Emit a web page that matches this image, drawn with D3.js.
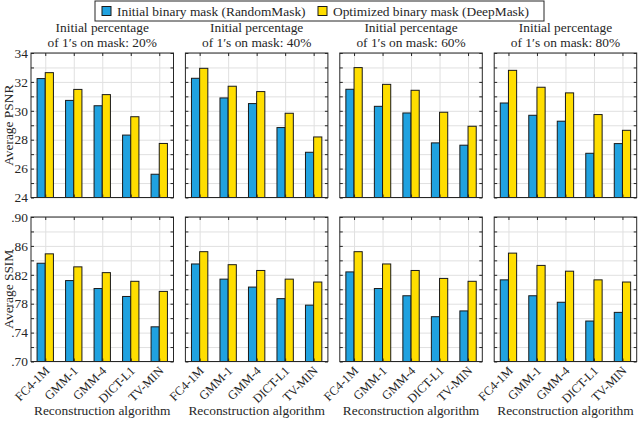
<!DOCTYPE html>
<html>
<head>
<meta charset="utf-8">
<script src="https://cdn.jsdelivr.net/npm/d3@7"></script>
<style>
  body { margin: 0; background: #fff; }
  svg, svg text { font-family: "Liberation Serif", "DejaVu Serif", serif !important; fill: #262626; }
</style>
</head>
<body>
<div id="viz"></div>
<script>
// The chart data: one row per initial percentage, one value per algorithm.
var algorithms = ["FC4-1M", "GMM-1", "GMM-4", "DICT-L1", "TV-MIN"];
var percentages = ["20%", "40%", "60%", "80%"];

var psnrRandom = [
  [32.23, 30.72, 30.35, 28.32, 25.61],
  [32.25, 30.89, 30.50, 28.84, 27.13],
  [31.49, 30.31, 29.85, 27.78, 27.62],
  [30.54, 29.69, 29.28, 27.06, 27.73]
];
var psnrDeep = [
  [32.64, 31.48, 31.12, 29.59, 27.74],
  [32.94, 31.70, 31.33, 29.83, 28.19],
  [32.99, 31.83, 31.42, 29.90, 28.93],
  [32.80, 31.63, 31.24, 29.74, 28.65]
];
var ssimRandom = [
  [0.836, 0.812, 0.801, 0.790, 0.748],
  [0.835, 0.814, 0.803, 0.787, 0.778],
  [0.824, 0.801, 0.791, 0.762, 0.770],
  [0.813, 0.791, 0.782, 0.756, 0.768]
];
var ssimDeep = [
  [0.849, 0.831, 0.823, 0.811, 0.797],
  [0.852, 0.834, 0.826, 0.814, 0.810],
  [0.852, 0.835, 0.826, 0.815, 0.811],
  [0.850, 0.833, 0.825, 0.813, 0.810]
];

var psnrTicks = [24, 26, 28, 30, 32, 34];
var ssimTicks = [0.70, 0.74, 0.78, 0.82, 0.86, 0.90];
var legendLabels = ["Initial binary mask (RandomMask)", "Optimized binary mask (DeepMask)"];

// colours and layout
var blue = "#20a2e0", yellow = "#ffde00";
var axisColor = "#262626", gridColor = "#e0e0e0";
var serif = "Liberation Serif";
var left = 31, step = 154.4, pw = 142.5;
var rowTop = [53, 217], ph = 144.5;
var bw = 0.287; // bar width in category units

var svg = d3.select("#viz").append("svg")
  .attr("width", 640).attr("height", 421)
  .attr("font-family", serif);

// one entry per row of panels
var rows = [
  { domain: [24, 34], ticks: psnrTicks, grid: d3.range(24, 34.001, 1), a: psnrRandom, b: psnrDeep, label: "Average PSNR",
    fmt: function (d) { return d; } },
  { domain: [0.70, 0.90], ticks: ssimTicks, grid: d3.range(0, 11).map(function (i) { return 0.70 + i * 0.02; }), a: ssimRandom, b: ssimDeep, label: "Average SSIM",
    fmt: function (d) { return d3.format(".2f")(d).replace(/^0/, ""); } }
];

var x = d3.scaleLinear().domain([0.5, 5.5]).range([0, pw]);

function label(g) {
  return g.append("text").attr("font-family", serif).style("font-size", "13.4px");
}

rows.forEach(function (row, r) {
  var y = d3.scaleLinear().domain(row.domain).range([ph, 0]);

  percentages.forEach(function (p, c) {
    var g = svg.append("g").attr("transform", "translate(" + (left + c * step) + "," + rowTop[r] + ")");

    // grid lines
    g.append("g").attr("class", "grid")
      .call(d3.axisLeft(y).tickValues(row.grid).tickSize(-pw).tickFormat(""));
    g.append("g").attr("class", "grid")
      .attr("transform", "translate(0," + ph + ")")
      .call(d3.axisBottom(x).tickValues([1, 2, 3, 4, 5]).tickSize(-ph).tickFormat(""));
    g.selectAll(".grid .domain").remove();
    g.selectAll(".grid line").attr("stroke", gridColor);

    // the bars
    var vals = algorithms.map(function (name, i) { return { k: i + 1, a: row.a[c][i], b: row.b[c][i] }; });
    g.selectAll(".barA").data(vals).enter().append("rect")
      .attr("x", function (d) { return x(d.k - bw); })
      .attr("width", x(bw) - x(0))
      .attr("y", function (d) { return y(d.a); })
      .attr("height", function (d) { return ph - y(d.a); })
      .attr("fill", blue).attr("stroke", "#1a1a1a").attr("stroke-width", 1);
    g.selectAll(".barB").data(vals).enter().append("rect")
      .attr("x", function (d) { return x(d.k); })
      .attr("width", x(bw) - x(0))
      .attr("y", function (d) { return y(d.b); })
      .attr("height", function (d) { return ph - y(d.b); })
      .attr("fill", yellow).attr("stroke", "#1a1a1a").attr("stroke-width", 1);

    // inward ticks on all four sides
    var tk = [
      g.append("g").call(d3.axisLeft(y).tickValues(row.grid).tickSize(-3).tickFormat("")),
      g.append("g").attr("transform", "translate(" + pw + ",0)").call(d3.axisRight(y).tickValues(row.grid).tickSize(-3).tickFormat("")),
      g.append("g").call(d3.axisTop(x).tickValues([1, 2, 3, 4, 5]).tickSize(-3).tickFormat("")),
      g.append("g").attr("transform", "translate(0," + ph + ")").call(d3.axisBottom(x).tickValues([1, 2, 3, 4, 5]).tickSize(-3).tickFormat(""))
    ];
    tk.forEach(function (t) { t.select(".domain").remove(); t.selectAll("line").attr("stroke", axisColor); });

    // box
    g.append("rect").attr("width", pw).attr("height", ph)
      .attr("fill", "none").attr("stroke", axisColor).attr("stroke-width", 1);

    // y labels only on first column
    if (c == 0) {
      var ya = g.append("g").call(d3.axisLeft(y).tickValues(row.ticks).tickSize(0).tickPadding(3).tickFormat(row.fmt));
      ya.attr("font-family", serif).attr("font-size", 13.4);
      ya.select(".domain").remove();
      ya.selectAll("text").attr("fill", axisColor);
      label(g)
        .attr("transform", "translate(" + (12.5 - left) + "," + (ph / 2) + ") rotate(-90)")
        .attr("text-anchor", "middle")
        .text(row.label);
    }

    // column titles over the top row
    if (r == 0) {
      label(g).attr("x", pw / 2).attr("y", 32 - rowTop[0])
        .attr("text-anchor", "middle").text("Initial percentage");
      label(g).attr("x", pw / 2).attr("y", 47 - rowTop[0])
        .attr("text-anchor", "middle").text("of 1\u2032s on mask: " + p);
    }

    // rotated category labels and axis title on the bottom row
    if (r == 1) {
      g.selectAll(".xl").data(algorithms).enter().append("text")
        .attr("font-family", serif)
        .attr("transform", function (d, i) { return "translate(" + (x(i + 1) + 5) + "," + (ph + 10) + ") rotate(-45)"; })
        .attr("text-anchor", "end")
        .style("font-size", "12.4px")
        .text(function (d) { return d; });
      label(g).attr("x", pw / 2).attr("y", 415 - rowTop[1])
        .attr("text-anchor", "middle").text("Reconstruction algorithm");
    }
  });
});

// legend on top
var lg = svg.append("g");
lg.append("rect").attr("x", 95).attr("y", 1).attr("width", 449).attr("height", 20)
  .attr("fill", "#fff").attr("stroke", axisColor).attr("stroke-width", 1);
var lx = [102, 318];
legendLabels.forEach(function (t, i) {
  lg.append("rect").attr("x", lx[i]).attr("y", 6.5).attr("width", 9).attr("height", 9)
    .attr("fill", i == 0 ? blue : yellow).attr("stroke", "#1a1a1a");
  label(lg).attr("x", lx[i] + 15).attr("y", 15.5).text(t);
});
</script>
</body>
</html>
